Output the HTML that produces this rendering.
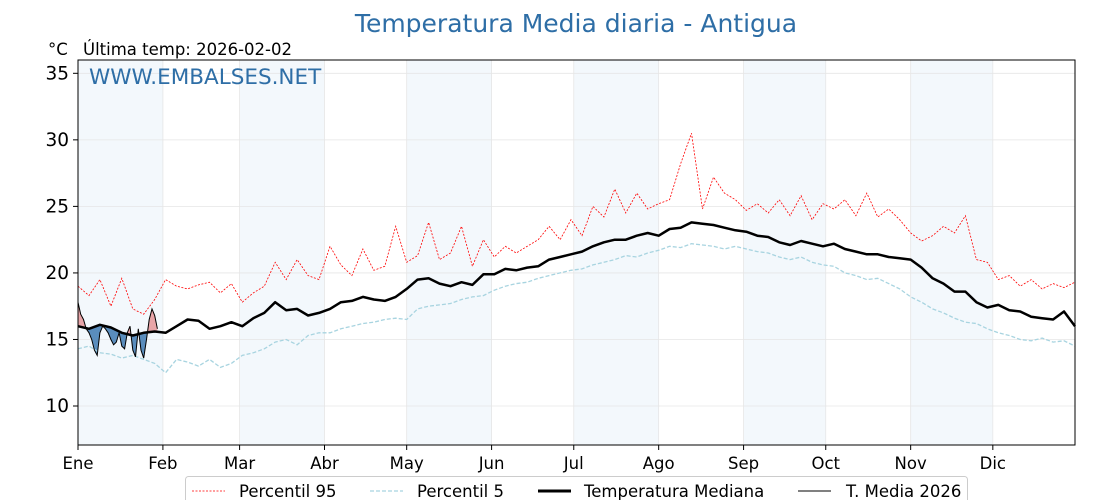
<!DOCTYPE html>
<html><head><meta charset="utf-8"><style>
body{margin:0;background:#fff;font-family:"DejaVu Sans","Liberation Sans",sans-serif}
svg text{font-family:"DejaVu Sans","Liberation Sans",sans-serif}
</style></head><body>
<svg id="c" width="1120" height="500" viewBox="0 0 1120 500">
<text x="576" y="32" text-anchor="middle" font-size="25" fill="#2e6ea6">Temperatura Media diaria - Antigua</text>
<text x="48" y="55" font-size="16.5" fill="#000">°C</text>
<text x="83" y="55" font-size="16.5" fill="#000">Última temp: 2026-02-02</text>
<g id="bands"></g><g id="grid"></g><g id="series"></g>
<text x="89" y="84" font-size="21.5" fill="#2e6ea6">WWW.EMBALSES.NET</text>
<rect x="78" y="60" width="997" height="385" fill="none" stroke="#000" stroke-width="1"/>
<g id="axes"></g>
<g>
<rect x="185.5" y="476.5" width="782" height="30" rx="3" fill="#fff" stroke="#ccc"/>
<line x1="192" y1="491" x2="225" y2="491" stroke="red" stroke-width="0.8" stroke-dasharray="2,1.5"/>
<text x="239" y="497" font-size="16.5">Percentil 95</text>
<line x1="370" y1="491" x2="403" y2="491" stroke="#a8d4e0" stroke-width="1.2" stroke-dasharray="4,2"/>
<text x="417" y="497" font-size="16.5">Percentil 5</text>
<line x1="538" y1="491" x2="571" y2="491" stroke="#000" stroke-width="3"/>
<text x="584" y="497" font-size="16.5">Temperatura Mediana</text>
<line x1="798" y1="491" x2="831" y2="491" stroke="#000" stroke-width="1"/>
<text x="846" y="497" font-size="16.5">T. Media 2026</text>
</g>
</svg>
<script>
const step=4;
const monthLabels=["Ene","Feb","Mar","Abr","May","Jun","Jul","Ago","Sep","Oct","Nov","Dic"];
const monthStarts=[0,31,59,90,120,151,181,212,243,273,304,334];
const yTicks=[10,15,20,25,30,35];
const median=[16.0,15.8,16.1,15.9,15.5,15.3,15.5,15.6,15.5,16.0,16.5,16.4,15.8,16.0,16.3,16.0,16.6,17.0,17.8,17.2,17.3,16.8,17.0,17.3,17.8,17.9,18.2,18.0,17.9,18.2,18.8,19.5,19.6,19.2,19.0,19.3,19.1,19.9,19.9,20.3,20.2,20.4,20.5,21.0,21.2,21.4,21.6,22.0,22.3,22.5,22.5,22.8,23.0,22.8,23.3,23.4,23.8,23.7,23.6,23.4,23.2,23.1,22.8,22.7,22.3,22.1,22.4,22.2,22.0,22.2,21.8,21.6,21.4,21.4,21.2,21.1,21.0,20.4,19.6,19.2,18.6,18.6,17.8,17.4,17.6,17.2,17.1,16.7,16.6,16.5,17.1,16.0];
const p95=[19.0,18.3,19.5,17.5,19.6,17.3,16.9,18.0,19.5,19.0,18.8,19.1,19.3,18.5,19.2,17.8,18.5,19.0,20.8,19.5,21.0,19.8,19.5,22.0,20.6,19.8,21.8,20.2,20.5,23.5,20.8,21.3,23.8,21.0,21.5,23.5,20.5,22.5,21.2,22.0,21.5,22.0,22.5,23.5,22.5,24.0,22.8,25.0,24.2,26.3,24.5,26.0,24.8,25.2,25.5,28.2,30.5,24.8,27.2,26.0,25.5,24.7,25.2,24.5,25.5,24.3,25.8,24.0,25.2,24.8,25.5,24.3,26.0,24.2,24.8,24.0,23.0,22.4,22.8,23.5,23.0,24.3,21.0,20.8,19.5,19.8,19.0,19.5,18.8,19.2,18.9,19.3];
const p5=[14.3,14.5,14.0,13.9,13.6,13.8,13.5,13.2,12.5,13.5,13.3,13.0,13.5,12.9,13.2,13.8,14.0,14.3,14.8,15.0,14.6,15.3,15.5,15.5,15.8,16.0,16.2,16.3,16.5,16.6,16.5,17.3,17.5,17.6,17.7,18.0,18.2,18.3,18.7,19.0,19.2,19.3,19.6,19.8,20.0,20.2,20.3,20.6,20.8,21.0,21.3,21.2,21.5,21.7,22.0,21.9,22.2,22.1,22.0,21.8,22.0,21.8,21.6,21.5,21.2,21.0,21.2,20.8,20.6,20.5,20.0,19.8,19.5,19.6,19.2,18.8,18.2,17.8,17.3,17.0,16.6,16.3,16.2,15.8,15.5,15.3,15.0,14.9,15.1,14.8,14.9,14.5];
const t2026=[17.8,16.9,16.5,15.8,15.5,15.0,14.2,13.8,15.5,16.0,15.8,15.5,15.0,14.6,14.8,15.5,14.5,14.3,15.5,16.0,14.2,13.7,15.8,14.2,13.6,15.0,16.5,17.3,16.8,15.8];

const X0=78,X1=1075,Y0=60,Y1=445,DMAX=364,VMIN=7.07,VMAX=36;
const xs=d=>X0+d/DMAX*(X1-X0);
const ys=v=>Y1-(v-VMIN)/(VMAX-VMIN)*(Y1-Y0);
const NS="http://www.w3.org/2000/svg";
function mk(tag,attrs,parent){const e=document.createElementNS(NS,tag);for(const k in attrs)e.setAttribute(k,attrs[k]);parent.appendChild(e);return e;}
const bands=document.getElementById('bands'),grid=document.getElementById('grid'),series=document.getElementById('series'),axes=document.getElementById('axes');
monthStarts.forEach((m,i)=>{
  if(i%2===0){const end=i+1<monthStarts.length?monthStarts[i+1]:DMAX;
    const r=mk('rect',{x:xs(m),y:Y0,width:xs(end)-xs(m),height:Y1-Y0,fill:'#f3f8fc'},bands);
    
    }
  const g=mk('line',{x1:xs(m),x2:xs(m),y1:Y0,y2:Y1,stroke:'#e6e6e6','stroke-width':0.8},grid);
  
  
  const t=mk('line',{x1:xs(m),x2:xs(m),y1:Y1,y2:Y1+5,stroke:'#000'},axes);
  
  
  const l=mk('text',{x:xs(m),y:Y1+24,'text-anchor':'middle','font-size':16.5},axes);
  l.textContent=monthLabels[i];
  
  
});
yTicks.forEach(v=>{
  const g=mk('line',{x1:X0,x2:X1,y1:ys(v),y2:ys(v),stroke:'#e6e6e6','stroke-width':0.8},grid);
  
  
  const t=mk('line',{x1:X0-5,x2:X0,y1:ys(v),y2:ys(v),stroke:'#000'},axes);
  
  
  const l=mk('text',{x:X0-9,y:ys(v)+6,'text-anchor':'end','font-size':18.5},axes);
  l.textContent=v;
  
  
});
const pts=(arr,st)=>arr.map((v,i)=>xs(i*st).toFixed(1)+','+ys(v).toFixed(1)).join(' ');
function medAt(d){const i=Math.floor(d/step),f=d/step-i;return median[i]+(median[Math.min(i+1,median.length-1)]-median[i])*f;}
const defs=mk('defs',{},series);
const medPts=t2026.map((v,d)=>xs(d)+','+ys(medAt(d)));
const last=t2026.length-1;
const cu=mk('clipPath',{id:'above'},defs);
mk('polygon',{points:xs(0)+','+Y0+' '+medPts.join(' ')+' '+xs(last)+','+Y0},cu);
const cd=mk('clipPath',{id:'below'},defs);
mk('polygon',{points:xs(0)+','+Y1+' '+medPts.join(' ')+' '+xs(last)+','+Y1},cd);
const areaPts=pts(t2026,1)+' '+medPts.slice().reverse().join(' ');
const fa=mk('polygon',{points:areaPts,fill:'#e8a5a8','clip-path':'url(#above)'},series);


const fb=mk('polygon',{points:areaPts,fill:'#5a8dbd','clip-path':'url(#below)'},series);


const l95=mk('polyline',{points:pts(p95,step),fill:'none',stroke:'red','stroke-width':0.8,'stroke-dasharray':'2,1.5'},series);


const l5=mk('polyline',{points:pts(p5,step),fill:'none',stroke:'#a8d4e0','stroke-width':1.3,'stroke-dasharray':'4,2'},series);


const lm=mk('polyline',{points:pts(median,step),fill:'none',stroke:'#000','stroke-width':2.5,'stroke-linejoin':'round'},series);


const l26=mk('polyline',{points:pts(t2026,1),fill:'none',stroke:'#000','stroke-width':1},series);


</script>
</body></html>
